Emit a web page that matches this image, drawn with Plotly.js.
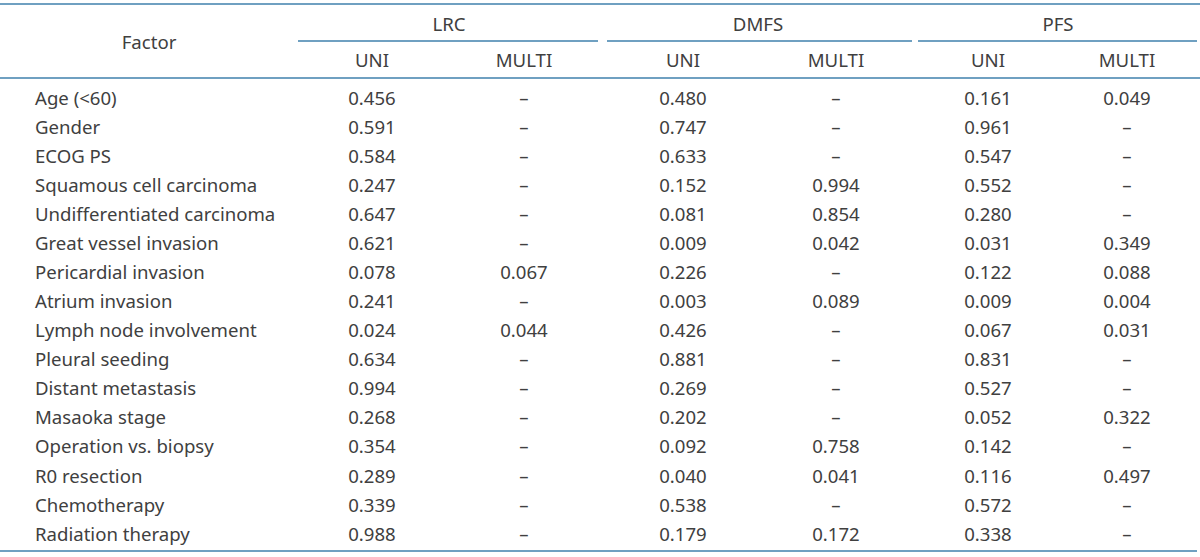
<!DOCTYPE html>
<html>
<head>
<meta charset="utf-8">
<script src="https://cdn.plot.ly/plotly-3.0.1.min.js"></script>
<style>html,body{margin:0;padding:0;background:#fff;}#chart{width:1200px;height:557px;}</style>
</head>
<body>
<div id="chart"></div>
<script>
// ---- data ----
const factors = ["Age (<60)", "Gender", "ECOG PS", "Squamous cell carcinoma", "Undifferentiated carcinoma",
  "Great vessel invasion", "Pericardial invasion", "Atrium invasion", "Lymph node involvement",
  "Pleural seeding", "Distant metastasis", "Masaoka stage", "Operation vs. biopsy", "R0 resection",
  "Chemotherapy", "Radiation therapy"];
const lrcUni    = ["0.456","0.591","0.584","0.247","0.647","0.621","0.078","0.241","0.024","0.634","0.994","0.268","0.354","0.289","0.339","0.988"];
const lrcMulti  = ["-","-","-","-","-","-","0.067","-","0.044","-","-","-","-","-","-","-"];
const dmfsUni   = ["0.480","0.747","0.633","0.152","0.081","0.009","0.226","0.003","0.426","0.881","0.269","0.202","0.092","0.040","0.538","0.179"];
const dmfsMulti = ["-","-","-","0.994","0.854","0.042","-","0.089","-","-","-","-","0.758","0.041","-","0.172"];
const pfsUni    = ["0.161","0.961","0.547","0.552","0.280","0.031","0.122","0.009","0.067","0.831","0.527","0.052","0.142","0.116","0.572","0.338"];
const pfsMulti  = ["0.049","-","-","-","-","0.349","0.088","0.004","0.031","-","-","0.322","-","0.497","-","-"];
const groupLabels = ["LRC", "DMFS", "PFS"];
const subLabels = ["UNI", "MULTI", "UNI", "MULTI", "UNI", "MULTI"];
const firstColLabel = "Factor";

// ---- layout config (positions in the plot's own coordinate units) ----
const colX = [372, 524, 683, 836, 988, 1127];
const groupX = [449, 758, 1058];
const groupLine = [[298, 598], [607, 912], [918, 1197]];
const factorX = 35;
const row0 = 100, rowStep = 29.07;
const headY = 26, subY = 62, factorY = 44;
const lineTop = 4, lineMid = 41, lineHead = 78, lineBottom = 551;

const txtColor = "#404040";
const lineColor = "#3f80ad";
const fontFam = "'Noto Sans', 'Open Sans', sans-serif";
const fs = 18.6;

const cols = [lrcUni, lrcMulti, dmfsUni, dmfsMulti, pfsUni, pfsMulti];
const disp = v => v === "-" ? "–" : v;
const rowY = factors.map((_, i) => row0 + rowStep * i);

const traces = [];
// factor names
traces.push({x: factors.map(() => factorX), y: rowY, text: factors, mode: "text",
  textposition: "middle right", textfont: {family: fontFam, size: fs, color: txtColor},
  hoverinfo: "skip", showlegend: false});
// value columns
cols.forEach((c, k) => {
  traces.push({x: c.map(() => colX[k]), y: rowY, text: c.map(disp), mode: "text",
    textposition: "middle center", textfont: {family: fontFam, size: fs, color: txtColor},
    hoverinfo: "skip", showlegend: false});
});
// headers
traces.push({x: groupX.concat(colX).concat([149]),
  y: groupX.map(() => headY).concat(colX.map(() => subY)).concat([factorY]),
  text: groupLabels.concat(subLabels).concat([firstColLabel]), mode: "text",
  textposition: "middle center", textfont: {family: fontFam, size: fs, color: txtColor},
  hoverinfo: "skip", showlegend: false});

// rules
function hline(x0, x1, y) {
  traces.push({x: [x0, x1], y: [y, y], mode: "lines", line: {color: lineColor, width: 1.6},
    hoverinfo: "skip", showlegend: false});
}
hline(0, 1200, lineTop);
groupLine.forEach(g => hline(g[0], g[1], lineMid));
hline(0, 1200, lineHead);
hline(0, 1197, lineBottom);

const layout = {
  width: 1200, height: 557,
  margin: {l: 0, r: 0, t: 0, b: 0},
  paper_bgcolor: "#fff", plot_bgcolor: "#fff",
  xaxis: {range: [0, 1200], visible: false, fixedrange: true},
  yaxis: {range: [557, 0], visible: false, fixedrange: true},
  hovermode: false,
  showlegend: false
};
Plotly.newPlot("chart", traces, layout, {displayModeBar: false, staticPlot: true});
</script>
</body>
</html>
